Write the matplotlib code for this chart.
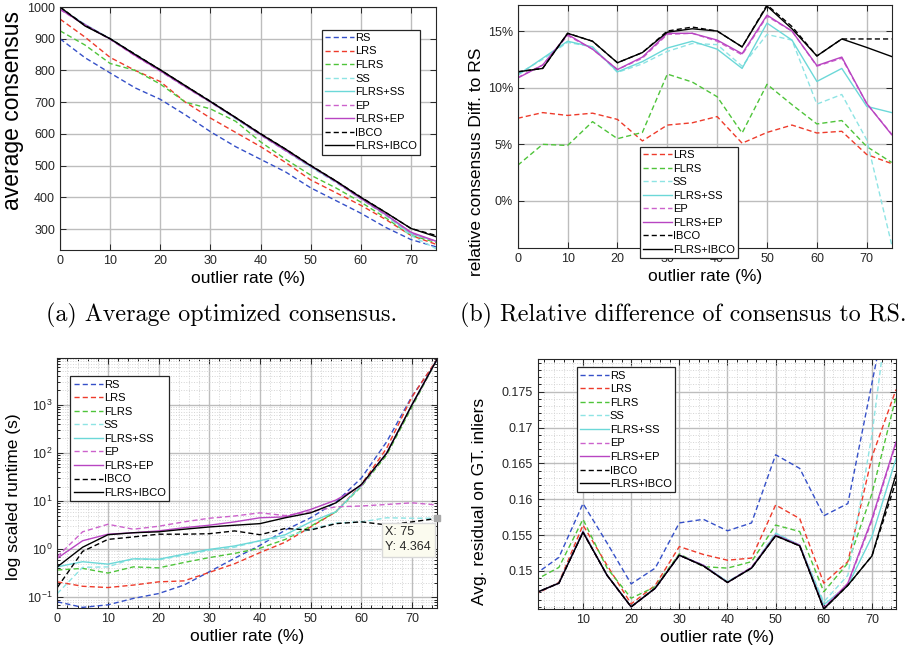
import matplotlib
matplotlib.use('Agg')
import matplotlib.pyplot as plt
from matplotlib.ticker import AutoMinorLocator
import numpy as np

plt.rcParams['font.family'] = ['Liberation Sans', 'DejaVu Sans']

# outlier rates (%)
rates = [0, 5, 10, 15, 20, 25, 30, 35, 40, 45, 50, 55, 60, 65, 70, 75]

methods = ['RS', 'LRS', 'FLRS', 'SS', 'FLRS+SS', 'EP', 'FLRS+EP', 'IBCO', 'FLRS+IBCO']
colors = ['#3550c8', '#ee3b2b', '#4fc43a', '#8ee4e4', '#6cd8d8', '#cc62cc', '#b845c2', 'black', 'black']
dashed = [True, True, True, True, False, True, False, True, False]

# (a) average consensus
a_rs = [900, 840, 792, 745, 709, 660, 607, 560, 520, 480, 430, 390, 350, 305, 267, 244]
a_lrs = [962, 905, 841, 800, 765, 700, 650, 605, 560, 510, 455, 415, 375, 330, 280, 252]
a_flrs = [925, 880, 822, 800, 757, 700, 679, 640, 575, 520, 470, 430, 385, 335, 280, 258]
a_ss = [995, 945, 898, 848, 798, 748, 700, 648, 596, 546, 495, 447, 395, 342, 280, 238]
a_flrs_ss = [995, 945, 900, 850, 800, 750, 702, 650, 598, 548, 497, 450, 397, 345, 285, 262]
a_ep = [992, 943, 898, 846, 798, 748, 700, 650, 597, 547, 498, 449, 396, 345, 288, 260]
a_flrs_ep = [993, 944, 899, 847, 799, 749, 701, 651, 598, 548, 499, 450, 397, 346, 290, 262]
a_ibco = [1000, 942, 900, 851, 802, 752, 703, 652, 601, 552, 501, 452, 401, 352, 302, 280]
a_flrs_ibco = [1000, 940, 900, 850, 802, 752, 702, 652, 600, 552, 500, 452, 400, 352, 302, 276]

# (b) relative consensus difference to RS (%)
b_lrs = [7.3, 7.8, 7.55, 7.75, 7.2, 5.3, 6.7, 6.9, 7.45, 5.1, 6.05, 6.7, 6.0, 6.15, 4.1, 3.3]
b_flrs = [3.15, 5.0, 4.9, 7.0, 5.5, 6.05, 11.2, 10.5, 9.2, 6.0, 10.3, 8.5, 6.8, 7.1, 4.8, 3.4]
b_ss = [11.2, 12.5, 14.0, 13.6, 11.35, 12.1, 13.2, 13.9, 13.8, 11.9, 14.7, 14.2, 8.55, 9.4, 5.4, -3.85]
b_flrs_ss = [11.1, 12.6, 14.1, 13.6, 11.4, 12.3, 13.5, 14.1, 13.4, 11.7, 15.7, 14.2, 10.55, 11.7, 8.35, 7.8]
b_ep = [10.9, 12.0, 14.6, 13.4, 11.6, 12.6, 14.7, 14.8, 14.1, 12.9, 16.3, 15.0, 11.9, 12.6, 8.6, 5.9]
b_flrs_ep = [10.85, 12.0, 14.7, 13.4, 11.6, 12.7, 14.8, 14.8, 14.2, 13.0, 16.4, 15.0, 11.95, 12.7, 8.6, 5.85]
b_ibco = [11.4, 11.7, 14.8, 14.1, 12.2, 13.1, 15.0, 15.35, 15.0, 13.6, 17.3, 15.4, 12.8, 14.3, 14.3, 14.3]
b_flrs_ibco = [11.4, 11.7, 14.8, 14.1, 12.2, 13.1, 14.9, 15.2, 15.0, 13.6, 17.2, 15.2, 12.8, 14.3, 13.55, 12.75]

# (c) runtime (s)
c_rs = [0.081, 0.062, 0.07, 0.095, 0.12, 0.18, 0.34, 0.65, 1.2, 2.5, 4.5, 9.5, 30, 170, 1500, 8500]
c_lrs = [0.21, 0.17, 0.16, 0.18, 0.21, 0.22, 0.33, 0.5, 0.85, 1.4, 2.9, 6.0, 22, 125, 1450, 9000]
c_flrs = [0.37, 0.4, 0.32, 0.43, 0.41, 0.53, 0.67, 0.82, 1.05, 1.6, 3.0, 6.0, 20, 90, 900, 9000]
c_ss = [0.12, 0.42, 0.43, 0.64, 0.6, 0.75, 0.95, 1.1, 1.5, 1.8, 2.6, 3.5, 3.7, 4.5, 4.4, 4.4]
c_flrs_ss = [0.43, 0.55, 0.49, 0.63, 0.62, 0.79, 0.99, 1.17, 1.5, 2.0, 3.7, 6.0, 21, 100, 1000, 9000]
c_ep = [0.7, 2.3, 3.3, 2.6, 3.0, 3.7, 4.4, 4.9, 5.7, 5.0, 6.0, 7.6, 7.9, 8.5, 9.2, 8.3]
c_flrs_ep = [0.65, 1.5, 2.05, 2.2, 2.4, 2.8, 3.15, 3.7, 4.5, 4.7, 6.7, 10.5, 21, 100, 1000, 9000]
c_ibco = [0.16, 0.9, 1.6, 1.8, 2.05, 2.05, 2.1, 2.4, 2.0, 2.7, 2.5, 3.4, 3.7, 3.2, 3.7, 4.364]
c_flrs_ibco = [0.43, 1.1, 2.0, 2.2, 2.3, 2.6, 2.9, 3.15, 3.4, 4.5, 5.7, 9.2, 22, 98, 1000, 9000]

# (d) avg residual on GT inliers
d_rs = [0.1495, 0.1519, 0.1594, 0.1539, 0.1482, 0.1504, 0.1567, 0.1572, 0.1556, 0.1567, 0.1662, 0.1643, 0.1577, 0.1594, 0.1762, 0.193]
d_lrs = [0.1467, 0.1484, 0.1564, 0.1508, 0.1454, 0.1480, 0.1534, 0.1523, 0.1515, 0.1518, 0.1592, 0.1573, 0.1483, 0.1513, 0.1659, 0.1753]
d_flrs = [0.1487, 0.1505, 0.1572, 0.1504, 0.1462, 0.1478, 0.1524, 0.1506, 0.1504, 0.1513, 0.1564, 0.1555, 0.1471, 0.1511, 0.1608, 0.1743]
d_ss = [0.1469, 0.1483, 0.1556, 0.1494, 0.1451, 0.1477, 0.1522, 0.1508, 0.1485, 0.1505, 0.1553, 0.1536, 0.1457, 0.1494, 0.1690, 0.195]
d_flrs_ss = [0.1469, 0.1483, 0.1555, 0.1494, 0.1450, 0.1476, 0.1522, 0.1508, 0.1485, 0.1504, 0.1552, 0.1536, 0.1453, 0.1480, 0.1548, 0.1657]
d_ep = [0.1469, 0.1483, 0.1554, 0.1494, 0.1450, 0.1476, 0.1522, 0.1507, 0.1484, 0.1505, 0.1550, 0.1535, 0.1448, 0.1482, 0.1570, 0.1678]
d_flrs_ep = [0.1469, 0.1483, 0.1555, 0.1494, 0.1450, 0.1476, 0.1522, 0.1508, 0.1484, 0.1505, 0.1550, 0.1536, 0.1448, 0.1483, 0.1573, 0.1680]
d_ibco = [0.1469, 0.1483, 0.1554, 0.1494, 0.1450, 0.1476, 0.1522, 0.1507, 0.1484, 0.1504, 0.1549, 0.1535, 0.1447, 0.1480, 0.1521, 0.1625]
d_flrs_ibco = [0.1469, 0.1483, 0.1554, 0.1494, 0.1450, 0.1476, 0.1522, 0.1507, 0.1484, 0.1504, 0.1549, 0.1535, 0.1447, 0.1480, 0.1521, 0.1635]

a_data = [a_rs, a_lrs, a_flrs, a_ss, a_flrs_ss, a_ep, a_flrs_ep, a_ibco, a_flrs_ibco]
b_data = [None, b_lrs, b_flrs, b_ss, b_flrs_ss, b_ep, b_flrs_ep, b_ibco, b_flrs_ibco]
c_data = [c_rs, c_lrs, c_flrs, c_ss, c_flrs_ss, c_ep, c_flrs_ep, c_ibco, c_flrs_ibco]
d_data = [d_rs, d_lrs, d_flrs, d_ss, d_flrs_ss, d_ep, d_flrs_ep, d_ibco, d_flrs_ibco]

fig = plt.figure(figsize=(9.12, 6.55), dpi=100)
ax_a = fig.add_axes([0.0658, 0.6183, 0.4123, 0.371])
ax_b = fig.add_axes([0.5677, 0.6214, 0.410, 0.371])
ax_c = fig.add_axes([0.0628, 0.0722, 0.4167, 0.3817])
ax_d = fig.add_axes([0.5896, 0.0698, 0.3929, 0.3821])


def draw(ax, data):
    for name, vals, col, dsh in zip(methods, data, colors, dashed):
        if vals is None:
            continue
        ls = (0, (3.7, 2.2)) if dsh else '-'
        ax.plot(rates, vals, color=col, linestyle=ls, linewidth=1.0, label=name)


def style(ax, minor=False):
    ax.tick_params(direction='in', top=True, right=True, labelsize=9, colors='#262626',
                   length=4, width=0.7)
    ax.grid(True, which='major', color='#bdbdbd', linewidth=1.0)
    if minor:
        ax.tick_params(which='minor', direction='in', top=True, right=True, length=2, width=0.6)
        ax.grid(True, which='minor', color='#d4d4d4', linestyle=':', linewidth=0.7)
    ax.set_axisbelow(True)
    for sp in ax.spines.values():
        sp.set_color('#262626')
        sp.set_linewidth(0.8)
    ax.set_xlabel('outlier rate (%)', fontsize=12.5, labelpad=3)


def legend(ax, loc, anchor):
    leg = ax.legend(loc=loc, bbox_to_anchor=anchor, fontsize=8, handlelength=2.6,
                    handletextpad=0.1, labelspacing=0.32, borderpad=0.3,
                    fancybox=False, framealpha=1, edgecolor='#262626')
    leg.get_frame().set_linewidth(0.9)
    leg.set_zorder(5)
    return leg


# (a)
draw(ax_a, a_data)
style(ax_a)
ax_a.set_xlim(0, 75)
ax_a.set_ylim(234, 1000)
ax_a.set_xticks(range(0, 80, 10))
ax_a.set_yticks(range(300, 1001, 100))
ax_a.set_ylabel('average consensus', fontsize=16.5)
ax_a.yaxis.set_label_coords(-0.095, 0.576)
legend(ax_a, 'upper right', (0.973, 0.93))

# (b)
draw(ax_b, b_data)
style(ax_b)
ax_b.set_xlim(0, 75)
ax_b.set_ylim(-4.15, 17.3)
ax_b.set_xticks(range(0, 80, 10))
ax_b.set_yticks([0, 5, 10, 15])
ax_b.set_yticklabels(['0%', '5%', '10%', '15%'])
ax_b.set_ylabel('relative consensus Diff. to RS', fontsize=12.5)
ax_b.yaxis.set_label_coords(-0.09, 0.354)
legend(ax_b, 'upper left', (0.311, 0.44))

# (c)
draw(ax_c, c_data)
ax_c.set_yscale('log')
ax_c.set_xlim(0, 75)
ax_c.set_ylim(0.061, 9500)
ax_c.set_xticks(range(0, 80, 10))
ax_c.set_yticks([0.1, 1, 10, 100, 1000])
ax_c.xaxis.set_minor_locator(AutoMinorLocator(5))
style(ax_c, minor=True)
ax_c.set_ylabel('log scaled runtime (s)', fontsize=12.5)
ax_c.yaxis.set_label_coords(-0.095, 0.443)
legend(ax_c, 'upper left', (0.02, 0.948))
# data tip
ax_c.plot(rates[-1], c_ibco[-1], marker='s', color='#a8a8a8', markersize=5, clip_on=False, zorder=6)
ax_c.annotate('X: %d\nY: %.3f' % (rates[-1], c_ibco[-1]), xy=(rates[-1], c_ibco[-1]),
              xytext=(-52, -8), textcoords='offset pixels', ha='left', va='top',
              fontsize=9, color='#262626', linespacing=1.3,
              bbox=dict(boxstyle='square,pad=0.3', facecolor='#fbfbef', edgecolor='#d8d8d8'),
              zorder=6)

# (d)
draw(ax_d, d_data)
ax_d.set_xlim(0.6, 75)
ax_d.set_ylim(0.14466, 0.17955)
ax_d.set_xticks(range(10, 80, 10))
ax_d.set_yticks([0.15, 0.155, 0.16, 0.165, 0.17, 0.175])
ax_d.set_yticklabels(['0.15', '0.155', '0.16', '0.165', '0.17', '0.175'])
ax_d.xaxis.set_minor_locator(AutoMinorLocator(5))
ax_d.yaxis.set_minor_locator(AutoMinorLocator(5))
style(ax_d, minor=True)
ax_d.set_ylabel('Avg. residual on GT. inliers', fontsize=12.5)
ax_d.yaxis.set_label_coords(-0.141, 0.43)
legend(ax_d, 'upper left', (0.093, 0.989))

# captions
fig.text(0.2434, 0.519, '(a) Average optimized consensus.', family='cmr10', fontsize=17.3,
         ha='center', va='center')
fig.text(0.749, 0.519, '(b) Relative difference of consensus to RS.', family='cmr10', fontsize=17.3,
         ha='center', va='center')

fig.savefig('out.png', dpi=100)
